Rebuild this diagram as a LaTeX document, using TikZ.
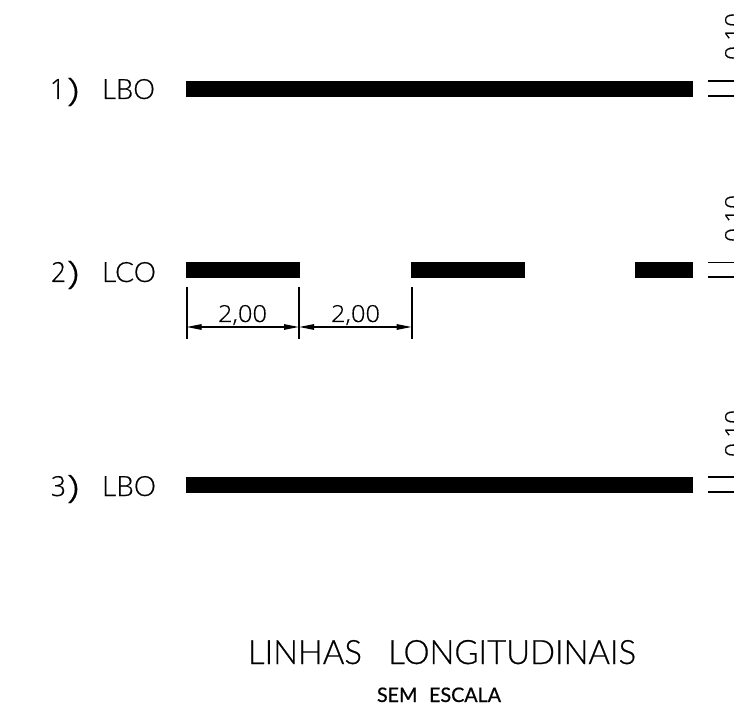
\documentclass[tikz,border=0pt]{standalone}
\usepackage{fontspec}
\usepackage{graphicx}
\setmainfont{Lato}
\newfontfamily\litef{Lato}[UprightFont=* Light,FakeBold=0.5]
\newfontfamily\digf{Open Sans}[UprightFont=* Light,FakeBold=0.4]
\newfontfamily\medf{Lato}[FakeBold=0.6]
\usetikzlibrary{arrows.meta}
\newcommand\fitT[3]{\resizebox{#1pt}{#2pt}{#3}}
\tikzset{
  x=1pt,y=-1pt,
  txt/.style={inner sep=0pt,outer sep=0pt,anchor=base west,text=black},
  bar/.style={fill=black},
  thin line/.style={draw=black,line width=1.3pt},
  dimline/.style={draw=black,line width=1.8pt},
  dimarrow/.style={draw=black,line width=1.3pt,{Stealth[length=15pt,width=5.5pt,inset=0pt]}-{Stealth[length=15pt,width=5.5pt,inset=0pt]}}
}
\begin{document}
\begin{tikzpicture}
\useasboundingbox (0,0) rectangle (734,719);
\clip (0,0) rectangle (734,719);
% bars
\fill[bar] (186,81) rectangle (693,97);
\fill[bar] (186,262) rectangle (300,278);
\fill[bar] (411,262) rectangle (525,278);
\fill[bar] (635,262) rectangle (693,278);
\fill[bar] (186,477) rectangle (693,493);
% right ticks
\foreach \y in {81,96,262.5,277,477,492} \draw[thin line] (708,\y) -- (734,\y);
% row labels
\node[txt] (n1) at (50,99) {\fitT{15}{20}{\digf 1}};
\node[txt] (p1) at (67,101) {\fitT{12}{23}{\digf )}};
\node[txt] (l1) at (102,99) {\fitT{53}{20}{\litef LBO}};
\node[txt] (n2) at (51,282) {\fitT{15}{20}{\digf 2}};
\node[txt] (p2) at (67,284) {\fitT{12}{23}{\digf )}};
\node[txt] (l2) at (102,282) {\fitT{54}{20}{\litef LCO}};
\node[txt] (n3) at (51,496) {\fitT{15}{20}{\digf 3}};
\node[txt] (p3) at (67,498) {\fitT{12}{23}{\digf )}};
\node[txt] (l3) at (102,496) {\fitT{54}{20}{\litef LBO}};
% dimensions
\coordinate (a1) at (186.7,287); \coordinate (a2) at (186.7,339);
\coordinate (b1) at (299,287); \coordinate (b2) at (299,339);
\coordinate (c1) at (411.7,287); \coordinate (c2) at (411.7,339);
\draw[dimline] (a1) -- (a2);
\draw[dimline] (b1) -- (b2);
\draw[dimline] (c1) -- (c2);
\coordinate (da) at (186.7,327); \coordinate (db) at (299,327); \coordinate (dc) at (411.7,327);
\draw[dimarrow] (da) -- (db);
\draw[dimarrow] (db) -- (dc);
\node[txt] (d1) at (218,322) {\fitT{49}{17}{\digf 2,00}};
\node[txt] (d2) at (331,322) {\fitT{49}{17}{\digf 2,00}};
% clipped rotated
\node[txt,rotate=90] (r1) at (742,60) {\fitT{47}{17}{\digf 0,10}};
\node[txt,rotate=90] (r2) at (742,242) {\fitT{47}{17}{\digf 0,10}};
\node[txt,rotate=90] (r3) at (742,457) {\fitT{47}{17}{\digf 0,10}};
% title
\node[txt] (t1) at (248,664) {\fitT{388}{24}{\litef LINHAS\hspace{0.8em}LONGITUDINAIS}};
\node[txt] (t2) at (377,702) {\fitT{124}{14.5}{\medf SEM\hspace{0.6em}ESCALA}};
\end{tikzpicture}
\end{document}
